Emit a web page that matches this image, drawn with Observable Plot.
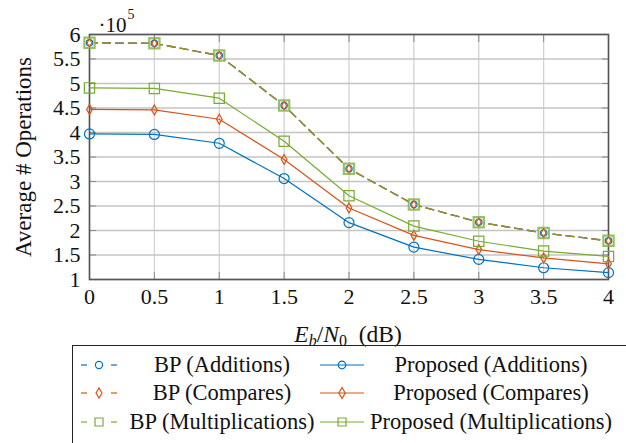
<!DOCTYPE html>
<html><head><meta charset="utf-8">
<script src="https://cdn.jsdelivr.net/npm/d3@7"></script>
<script src="https://cdn.jsdelivr.net/npm/@observablehq/plot@0.6"></script>
<style>
body{margin:0;background:#fff;font-family:"Liberation Serif","DejaVu Serif",serif;color:#111;}
#chart{position:relative;width:626px;height:443px;overflow:hidden;background:#fff}
#legend{position:absolute;left:72px;top:345px;width:560px;height:120px;border:1.3px solid #222;box-sizing:border-box}
.lbl{position:absolute;width:320px;text-align:center;font-size:22.5px;line-height:28px;white-space:nowrap}
.smp{position:absolute}
</style></head><body><div id="chart"></div>
<script>
// ---- data ----
const snr = [0, 0.5, 1, 1.5, 2, 2.5, 3, 3.5, 4];
const yTicks = [1, 1.5, 2, 2.5, 3, 3.5, 4, 4.5, 5, 5.5, 6];
const bpAdditions       = [5.83, 5.82, 5.57, 4.55, 3.26, 2.53, 2.17, 1.95, 1.79];
const bpCompares        = [5.83, 5.82, 5.57, 4.55, 3.26, 2.53, 2.17, 1.95, 1.79];
const bpMultiplications = [5.83, 5.82, 5.57, 4.55, 3.26, 2.53, 2.17, 1.95, 1.79];
const propAdditions       = [3.97, 3.96, 3.78, 3.06, 2.16, 1.66, 1.41, 1.24, 1.14];
const propCompares        = [4.47, 4.46, 4.27, 3.45, 2.46, 1.90, 1.61, 1.44, 1.32];
const propMultiplications = [4.91, 4.90, 4.70, 3.82, 2.71, 2.09, 1.78, 1.58, 1.47];
const seriesNames = ["BP (Additions)", "BP (Compares)", "BP (Multiplications)",
                     "Proposed (Additions)", "Proposed (Compares)", "Proposed (Multiplications)"];
const yLabel = "Average # Operations";
const scaleText = "·10";
const scaleExp = "5";

// ---- styles ----
const blue = "#0072BD", orange = "#D95319", green = "#77AC30";
const rows = (vals) => snr.map((x, i) => ({x, y: vals[i]}));
const serif = "Liberation Serif, DejaVu Serif, serif";

const series = [
  {name: seriesNames[3], data: rows(propAdditions), color: blue, symbol: "circle", r: 5},
  {name: seriesNames[4], data: rows(propCompares), color: orange, symbol: "diamond", r: 3},
  {name: seriesNames[5], data: rows(propMultiplications), color: green, symbol: "square", r: 5.8},
];
const bpSeries = [
  {name: seriesNames[0], data: rows(bpAdditions), color: blue, symbol: "circle", r: 3.2},
  {name: seriesNames[1], data: rows(bpCompares), color: orange, symbol: "diamond", r: 2.5},
  {name: seriesNames[2], data: rows(bpMultiplications), color: green, symbol: "square", r: 5.8},
];

const marks = [
  Plot.gridX(snr, {stroke: "#d2d2d2", strokeOpacity: 1, strokeWidth: 1.3}),
  Plot.gridY(yTicks, {stroke: "#c4c4c4", strokeOpacity: 1, strokeWidth: 1.3}),
  Plot.axisX(snr, {anchor: "bottom", tickSize: -7, fill: "none", stroke: "#8a8a8a", label: null}),
  Plot.axisX(snr, {anchor: "top", tickSize: -7, fill: "none", stroke: "#8a8a8a", label: null}),
  Plot.axisY(yTicks, {anchor: "left", tickSize: -7, fill: "none", stroke: "#8a8a8a", label: null}),
  Plot.axisY(yTicks, {anchor: "right", tickSize: -7, fill: "none", stroke: "#8a8a8a", label: null}),
  Plot.axisX(snr, {anchor: "bottom", tickSize: 0, tickPadding: 9, label: null, fontSize: 22, fontFamily: serif, tickFormat: d => String(d)}),
  Plot.axisY(yTicks, {anchor: "left", tickSize: 0, tickPadding: 9, label: null, fontSize: 22, fontFamily: serif, tickFormat: d => String(d)}),
  Plot.frame({stroke: "#555", strokeWidth: 1.6}),
];
for (const s of series) {
  marks.push(Plot.line(s.data, {x: "x", y: "y", stroke: s.color, strokeWidth: 1.2}));
}
for (const s of series) {
  marks.push(Plot.dot(s.data, {x: "x", y: "y", stroke: s.color, symbol: s.symbol, r: s.r, fill: "none", strokeWidth: 1.2}));
}
bpSeries.forEach((s, i) => {
  marks.push(Plot.line(s.data, {x: "x", y: "y", stroke: s.color, strokeWidth: 1.3,
    strokeDasharray: "8,5", strokeOpacity: i === 2 ? 0.7 : 1}));
});
// BP markers: square first (background), then diamond, circle
marks.push(Plot.dot(bpSeries[2].data, {x: "x", y: "y", stroke: green, symbol: "square", r: bpSeries[2].r, fill: "#ffffff", strokeWidth: 2.2, strokeOpacity: 0.75}));
marks.push(Plot.dot(bpSeries[0].data, {x: "x", y: "y", stroke: blue, symbol: "circle", r: bpSeries[0].r, fill: "none", strokeWidth: 1.1}));
marks.push(Plot.dot(bpSeries[1].data, {x: "x", y: "y", stroke: orange, symbol: "diamond", r: bpSeries[1].r, fill: "none", strokeWidth: 1.1}));
// texts
marks.push(Plot.text([yLabel], {frameAnchor: "left", rotate: -90, dx: -66, textAnchor: "middle", lineAnchor: "middle", text: d => d, fontSize: 23, fontFamily: serif, fill: "#111"}));
marks.push(Plot.text([scaleText], {frameAnchor: "top-left", dx: 9, dy: -17, text: d => d, fontSize: 21, fontFamily: serif, textAnchor: "start", fill: "#111"}));
marks.push(Plot.text([scaleExp], {frameAnchor: "top-left", dx: 38, dy: -25, text: d => d, fontSize: 14, fontFamily: serif, textAnchor: "start", fill: "#111"}));

const chart = Plot.plot({
  width: 626, height: 345,
  marginLeft: 89, marginRight: 18, marginTop: 34, marginBottom: 66,
  x: {domain: [0, 4]},
  y: {domain: [1, 6]},
  style: {fontFamily: serif, fontSize: "22px", color: "#111", background: "white", overflow: "visible"},
  marks
});
const root = document.getElementById("chart");
root.appendChild(chart);

// x label with sub/italic
const svg = d3.select(chart);
const xl = svg.append("text").attr("x", 348).attr("y", 342).attr("text-anchor", "middle")
  .attr("font-family", serif).attr("font-size", 23.5).attr("fill", "#111");
xl.append("tspan").attr("font-style", "italic").text("E");
xl.append("tspan").attr("font-style", "italic").attr("font-size", 16).attr("dy", 4).text("b");
xl.append("tspan").attr("dy", -4).text("/");
xl.append("tspan").attr("font-style", "italic").text("N");
xl.append("tspan").attr("font-size", 16).attr("dy", 4).text("0");
xl.append("tspan").attr("dy", -4).text("\u2002(dB)");

// legend
const leg = document.createElement("div");
leg.id = "legend";
root.appendChild(leg);
const legItems = [
  {name: seriesNames[0], color: blue, symbol: d3.symbolCircle, size: 40, dashed: true, col: 0, row: 0},
  {name: seriesNames[1], color: orange, symbol: d3.symbolDiamond, size: 30, dashed: true, col: 0, row: 1},
  {name: seriesNames[2], color: green, symbol: d3.symbolSquare, size: 64, dashed: true, col: 0, row: 2},
  {name: seriesNames[3], color: blue, symbol: d3.symbolCircle, size: 45, dashed: false, col: 1, row: 0},
  {name: seriesNames[4], color: orange, symbol: d3.symbolDiamond, size: 35, dashed: false, col: 1, row: 1},
  {name: seriesNames[5], color: green, symbol: d3.symbolSquare, size: 64, dashed: false, col: 1, row: 2},
];
const rowY = [19, 47, 76];
const sampleX = [7, 247];
const textC = [149, 418];
for (const it of legItems) {
  const s = d3.create("svg").attr("class", "smp").attr("width", 46).attr("height", 20)
    .style("left", sampleX[it.col] + "px").style("top", (rowY[it.row] - 10) + "px");
  if (it.dashed) {
    s.append("line").attr("x1", 1).attr("x2", 7).attr("y1", 10).attr("y2", 10).attr("stroke", it.color).attr("stroke-width", 1.2);
    s.append("line").attr("x1", 31).attr("x2", 37).attr("y1", 10).attr("y2", 10).attr("stroke", it.color).attr("stroke-width", 1.2);
    s.append("path").attr("d", d3.symbol(it.symbol, it.size)()).attr("transform", "translate(19,10)")
      .attr("fill", "none").attr("stroke", it.color).attr("stroke-width", 1.2);
  } else {
    s.append("line").attr("x1", 0).attr("x2", 44).attr("y1", 10).attr("y2", 10).attr("stroke", it.color).attr("stroke-width", 1.2);
    s.append("path").attr("d", d3.symbol(it.symbol, it.size)()).attr("transform", "translate(22,10)")
      .attr("fill", "none").attr("stroke", it.color).attr("stroke-width", 1.2);
  }
  leg.appendChild(s.node());
  const t = document.createElement("div");
  t.className = "lbl";
  t.textContent = it.name;
  t.style.left = (textC[it.col] - 160) + "px";
  t.style.top = (rowY[it.row] - 14) + "px";
  leg.appendChild(t);
}
</script></body></html>
